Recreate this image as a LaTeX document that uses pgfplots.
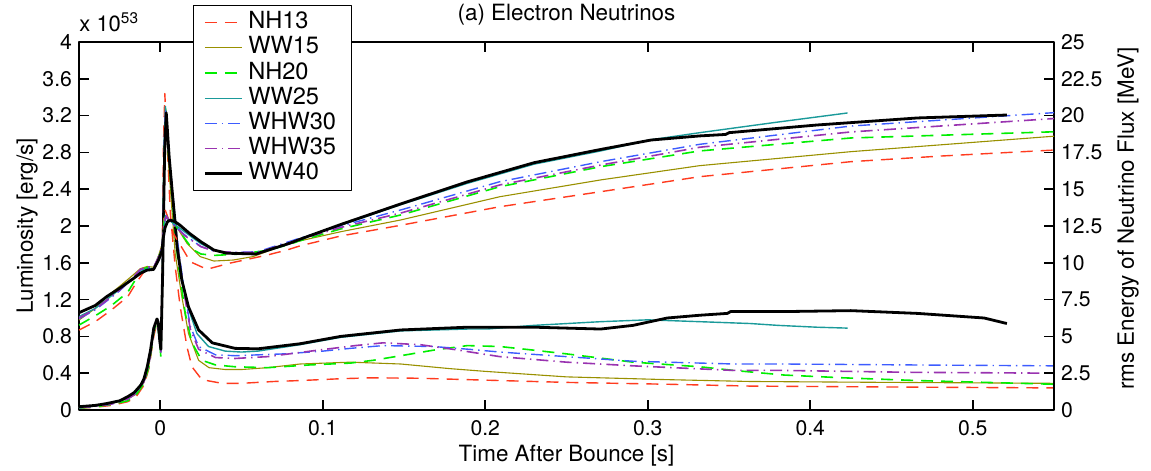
\documentclass[border=0pt]{standalone}
\usepackage{fontspec}
\setmainfont{TeX Gyre Heros}
\usepackage{pgfplots}
\pgfplotsset{compat=1.18}
\definecolor{cNH13}{HTML}{FF3B1F}
\definecolor{cWW15}{HTML}{999000}
\definecolor{cNH20}{HTML}{00EE00}
\definecolor{cWW25}{HTML}{1A9A9A}
\definecolor{cWHW30}{HTML}{3D5CFF}
\definecolor{cWHW35}{HTML}{9933B0}
\pgfplotsset{
  sNH13/.style={cNH13, line width=0.7pt, dash pattern=on 6pt off 4pt},
  sWW15/.style={cWW15, line width=0.55pt},
  sNH20/.style={cNH20, line width=0.8pt, dash pattern=on 6pt off 4pt},
  sWW25/.style={cWW25, line width=0.7pt},
  sWHW30/.style={cWHW30, line width=0.7pt, dash pattern=on 6pt off 2.5pt on 0.7pt off 2.5pt},
  sWHW35/.style={cWHW35, line width=0.8pt, dash pattern=on 6pt off 2.5pt on 0.7pt off 2.5pt},
  sWW40/.style={black, line width=1.4pt},
  base/.style={scale only axis, width=487.5pt, height=184pt, at={(0,0)}, anchor=south west,
    xmin=-0.05, xmax=0.55, tick align=inside, major tick length=5pt,
    every tick/.style={black, line width=0.8pt}, axis line style={line width=1pt},
    tick label style={font=\fontsize{10.6}{12}\selectfont},
    /pgf/number format/assume math mode=true,
    label style={font=\fontsize{11.2}{13}\selectfont},
    scaled ticks=false, line join=round, clip mode=individual}
}
\begin{document}
\begin{tikzpicture}
\path[use as bounding box] (-39.5pt,-30.5pt) rectangle (536pt,205pt);
\begin{axis}[base, ymin=0, ymax=4,
  ytick={0,0.4,0.8,1.2,1.6,2,2.4,2.8,3.2,3.6,4},
  yticklabels={0,0.4,0.8,1.2,1.6,2,2.4,2.8,3.2,3.6,4},
  ytick pos=left,
  xtick={0,0.1,0.2,0.3,0.4,0.5}, xticklabels={0,0.1,0.2,0.3,0.4,0.5},
  xticklabel style={yshift=-1.5pt},
  xlabel={Time After Bounce [s]},
  xlabel style={at={(axis description cs:0.5,0)}, anchor=north, yshift=-14pt},
  ylabel={Luminosity [erg/s]},
  ylabel style={at={(axis description cs:-0.0533,0.5)}, anchor=center},
]
% NH13
\addplot[sNH13] coordinates {(-0.05,0.02) (-0.04,0.03) (-0.03,0.05) (-0.02,0.09) (-0.015,0.14) (-0.01,0.27) (-0.007,0.45) (-0.004,0.80) (-0.002,0.95) (-0.0005,0.80) (0.0004,0.64) (0.0012,1.5) (0.002,2.9) (0.0028,3.44) (0.004,3.0) (0.0062,2.14) (0.0092,1.56) (0.0123,1.12) (0.0164,0.69) (0.0195,0.47) (0.0256,0.33) (0.038,0.29) (0.05,0.29) (0.07,0.31) (0.086,0.32) (0.111,0.34) (0.13,0.35) (0.16,0.345) (0.189,0.33) (0.25,0.30) (0.312,0.28) (0.363,0.26) (0.45,0.25) (0.55,0.24)};
% WW15
\addplot[sWW15] coordinates {(-0.05,0.03) (-0.04,0.045) (-0.03,0.07) (-0.02,0.12) (-0.015,0.17) (-0.01,0.30) (-0.007,0.48) (-0.004,0.85) (-0.002,0.97) (-0.0005,0.82) (0.0004,0.64) (0.0014,1.5) (0.0025,2.8) (0.0033,3.20) (0.005,2.7) (0.0092,1.70) (0.0133,1.23) (0.0174,0.83) (0.0236,0.54) (0.03,0.46) (0.04,0.44) (0.05,0.44) (0.066,0.46) (0.086,0.50) (0.117,0.52) (0.148,0.50) (0.178,0.45) (0.2,0.42) (0.25,0.36) (0.312,0.33) (0.363,0.31) (0.45,0.30) (0.55,0.29)};
% NH20
\addplot[sNH20] coordinates {(-0.05,0.02) (-0.04,0.035) (-0.03,0.06) (-0.02,0.10) (-0.015,0.16) (-0.01,0.29) (-0.007,0.47) (-0.004,0.84) (-0.002,0.96) (-0.0005,0.78) (0.0004,0.57) (0.0014,1.5) (0.0025,2.9) (0.0033,3.27) (0.005,2.8) (0.0092,1.9) (0.0113,1.56) (0.0154,1.05) (0.0195,0.73) (0.0256,0.54) (0.034,0.49) (0.046,0.47) (0.066,0.46) (0.092,0.49) (0.117,0.51) (0.131,0.54) (0.148,0.59) (0.168,0.65) (0.189,0.70) (0.209,0.69) (0.23,0.65) (0.25,0.61) (0.291,0.52) (0.332,0.47) (0.353,0.43) (0.384,0.38) (0.42,0.35) (0.466,0.32) (0.55,0.28)};
% WW25
\addplot[sWW25] coordinates {(-0.05,0.03) (-0.04,0.045) (-0.03,0.075) (-0.02,0.13) (-0.015,0.19) (-0.01,0.33) (-0.007,0.52) (-0.004,0.88) (-0.002,0.98) (-0.0005,0.82) (0.0004,0.65) (0.0014,1.6) (0.0025,3.0) (0.0032,3.30) (0.005,2.85) (0.0092,1.96) (0.0129,1.49) (0.017,1.12) (0.0226,0.83) (0.0297,0.69) (0.04,0.64) (0.05,0.63) (0.06,0.64) (0.086,0.71) (0.111,0.79) (0.148,0.86) (0.189,0.88) (0.201,0.88) (0.23,0.92) (0.271,0.96) (0.30,0.98) (0.332,0.96) (0.363,0.94) (0.38,0.92) (0.404,0.90) (0.423,0.89)};
% WHW30
\addplot[sWHW30] coordinates {(-0.05,0.025) (-0.04,0.04) (-0.03,0.065) (-0.02,0.12) (-0.015,0.18) (-0.01,0.31) (-0.007,0.50) (-0.004,0.86) (-0.002,0.97) (-0.0005,0.80) (0.0004,0.63) (0.0014,1.6) (0.0025,2.9) (0.0033,3.25) (0.005,2.85) (0.0103,1.88) (0.0144,1.34) (0.0185,0.91) (0.0236,0.69) (0.034,0.60) (0.046,0.59) (0.076,0.61) (0.1,0.64) (0.117,0.67) (0.137,0.70) (0.168,0.69) (0.19,0.66) (0.209,0.63) (0.25,0.58) (0.291,0.53) (0.353,0.50) (0.384,0.50) (0.46,0.49) (0.55,0.48)};
% WHW35
\addplot[sWHW35] coordinates {(-0.05,0.025) (-0.04,0.04) (-0.03,0.065) (-0.02,0.12) (-0.015,0.18) (-0.01,0.31) (-0.007,0.50) (-0.004,0.86) (-0.002,0.97) (-0.0005,0.80) (0.0004,0.63) (0.0014,1.55) (0.0025,2.85) (0.0033,3.2) (0.005,2.8) (0.0103,1.85) (0.0144,1.30) (0.0185,0.88) (0.0236,0.66) (0.034,0.57) (0.046,0.56) (0.066,0.58) (0.097,0.65) (0.12,0.70) (0.137,0.73) (0.16,0.71) (0.18,0.66) (0.209,0.58) (0.25,0.52) (0.291,0.48) (0.353,0.43) (0.384,0.43) (0.46,0.41) (0.55,0.40)};
% WW40
\addplot[sWW40] coordinates {(-0.05,0.036) (-0.04,0.05) (-0.033,0.07) (-0.025,0.10) (-0.02,0.145) (-0.016,0.19) (-0.012,0.27) (-0.01,0.34) (-0.008,0.47) (-0.006,0.65) (-0.004,0.89) (-0.002,0.99) (-0.0012,0.95) (-0.0003,0.75) (0.0004,0.66) (0.0015,1.5) (0.0027,2.8) (0.0037,3.23) (0.0055,2.75) (0.0075,2.35) (0.0092,2.03) (0.0103,1.78) (0.0133,1.41) (0.0174,1.12) (0.0236,0.87) (0.032,0.73) (0.046,0.67) (0.06,0.665) (0.086,0.72) (0.111,0.80) (0.148,0.87) (0.189,0.90) (0.23,0.90) (0.271,0.88) (0.291,0.92) (0.312,1.00) (0.332,1.03) (0.349,1.05) (0.351,1.07) (0.384,1.07) (0.425,1.08) (0.466,1.05) (0.507,1.00) (0.521,0.94)};
\node[font=\fontsize{11.2}{13}\selectfont, anchor=center] at (axis description cs:0.5,1) [yshift=13.5pt] {(a) Electron Neutrinos};
\node[font=\fontsize{11}{13}\selectfont, anchor=base west, inner sep=0pt] at (axis description cs:0,1) [yshift=5.2pt] {x 10\textsuperscript{53}};
\end{axis}
\begin{axis}[base, ymin=0, ymax=25, axis y line*=right, axis x line=none,
  ytick={0,2.5,5,7.5,10,12.5,15,17.5,20,22.5,25},
  yticklabels={0,2.5,5,7.5,10,12.5,15,17.5,20,22.5,25},
  ylabel={rms Energy of Neutrino Flux [MeV]},
  ylabel style={at={(axis description cs:1.0759,0.52)}, anchor=center},
  legend cell align=left,
  legend style={at={(axis description cs:0.1169,1.1005)}, anchor=north west, draw=black, line width=0.5pt, fill=white,
    font=\fontsize{11.8}{13}\selectfont, inner xsep=5pt, inner ysep=2.5pt, row sep=0.5pt,
    nodes={inner ysep=1.5pt, inner xsep=2.5pt, text height=7.6pt, text depth=1.5pt}},
  legend image code/.code={\draw[#1] (0pt,0pt) -- (18.5pt,0pt);},
]
% NH13
\addplot[sNH13] coordinates {(-0.05,5.43) (-0.04,6.0) (-0.03,6.8) (-0.02,7.7) (-0.015,8.6) (-0.01,9.4) (-0.006,9.7) (-0.003,9.75) (-0.001,10.3) (0.001,11.0) (0.002,12.8) (0.003,13.6) (0.005,13.0) (0.008,12.0) (0.0154,10.65) (0.0185,10.07) (0.0287,9.56) (0.043,9.98) (0.066,10.53) (0.078,10.87) (0.086,11.15) (0.111,11.82) (0.148,12.55) (0.209,13.81) (0.271,14.83) (0.332,15.85) (0.425,16.87) (0.48,17.25) (0.55,17.66)};
\addlegendentry{NH13}
% WW15
\addplot[sWW15] coordinates {(-0.05,6.11) (-0.04,6.9) (-0.033,7.7) (-0.025,8.4) (-0.0164,9.2) (-0.0123,9.6) (-0.008,9.75) (-0.004,9.7) (-0.001,10.5) (0.001,11.2) (0.0025,12.8) (0.0035,13.1) (0.005,12.9) (0.0087,12.68) (0.0165,11.32) (0.0246,10.42) (0.033,10.12) (0.045,10.19) (0.057,10.42) (0.08,11.34) (0.111,12.11) (0.148,12.91) (0.209,14.49) (0.271,15.63) (0.332,16.6) (0.425,17.55) (0.55,18.6)};
\addlegendentry{WW15}
% NH20
\addplot[sNH20] coordinates {(-0.05,5.77) (-0.04,6.4) (-0.03,7.1) (-0.02,8.0) (-0.015,8.9) (-0.01,9.6) (-0.006,9.75) (-0.003,9.75) (-0.001,10.4) (0.001,11.1) (0.0025,12.9) (0.0035,13.3) (0.005,13.0) (0.009,12.6) (0.0154,11.6) (0.02,10.9) (0.025,10.6) (0.033,10.5) (0.05,10.6) (0.066,10.85) (0.078,11.2) (0.086,11.5) (0.111,12.3) (0.148,13.25) (0.209,15.17) (0.271,16.53) (0.332,17.6) (0.425,18.48) (0.55,18.9)};
\addlegendentry{NH20}
% WW25
\addplot[sWW25] coordinates {(-0.05,6.34) (-0.04,6.9) (-0.033,7.5) (-0.025,8.2) (-0.0164,8.95) (-0.0123,9.35) (-0.008,9.6) (-0.004,9.6) (-0.001,10.3) (0.001,11.0) (0.0025,12.6) (0.0035,13.1) (0.0055,12.9) (0.009,12.6) (0.015,12.1) (0.025,11.3) (0.033,10.85) (0.041,10.65) (0.059,10.6) (0.08,11.3) (0.086,11.6) (0.111,12.55) (0.148,13.95) (0.189,15.4) (0.23,16.7) (0.271,17.6) (0.302,18.36) (0.332,18.84) (0.38,19.56) (0.423,20.18)};
\addlegendentry{WW25}
% WHW30
\addplot[sWHW30] coordinates {(-0.05,6.2) (-0.04,6.8) (-0.033,7.4) (-0.025,8.1) (-0.0164,9.0) (-0.0123,9.5) (-0.008,9.7) (-0.004,9.7) (-0.001,10.4) (0.001,11.1) (0.0025,12.8) (0.0035,13.2) (0.0055,12.9) (0.009,12.5) (0.015,11.9) (0.025,11.1) (0.033,10.8) (0.045,10.7) (0.06,10.75) (0.086,11.68) (0.111,12.5) (0.148,13.59) (0.209,15.51) (0.271,16.87) (0.332,18.05) (0.425,19.29) (0.55,20.2)};
\addlegendentry{WHW30}
% WHW35
\addplot[sWHW35] coordinates {(-0.05,6.25) (-0.04,6.85) (-0.033,7.45) (-0.025,8.15) (-0.0164,9.05) (-0.0123,9.55) (-0.008,9.72) (-0.004,9.7) (-0.001,10.4) (0.001,11.1) (0.0025,12.7) (0.0035,13.15) (0.0055,12.9) (0.009,12.5) (0.015,11.85) (0.025,11.1) (0.033,10.8) (0.045,10.7) (0.06,10.7) (0.086,11.6) (0.111,12.4) (0.148,13.38) (0.209,15.29) (0.271,16.64) (0.332,17.85) (0.425,18.89) (0.55,19.8)};
\addlegendentry{WHW35}
% WW40
\addplot[sWW40] coordinates {(-0.05,6.61) (-0.04,7.1) (-0.033,7.7) (-0.025,8.27) (-0.0164,8.94) (-0.0123,9.28) (-0.0082,9.5) (-0.0041,9.55) (-0.001,10.2) (0.001,10.8) (0.002,11.8) (0.003,12.4) (0.0045,12.8) (0.0062,12.9) (0.009,12.8) (0.012,12.57) (0.018,12.0) (0.025,11.43) (0.033,10.87) (0.041,10.65) (0.059,10.6) (0.08,11.34) (0.086,11.6) (0.111,12.6) (0.148,14.0) (0.189,15.5) (0.23,16.8) (0.271,17.7) (0.302,18.34) (0.332,18.62) (0.348,18.72) (0.35,18.84) (0.404,19.36) (0.466,19.84) (0.521,20.04)};
\addlegendentry{WW40}
\end{axis}
\end{tikzpicture}
\end{document}
